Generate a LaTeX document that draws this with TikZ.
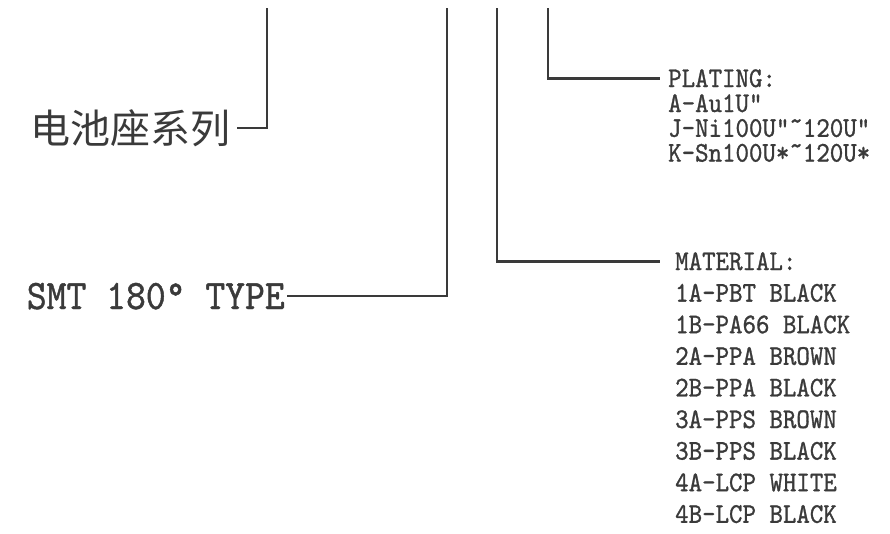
\documentclass[tikz,border=0pt]{standalone}
\usepackage{fontspec}
\newfontfamily\cjk{Noto Sans CJK SC}
\newfontfamily\lbl{lmmono10-regular.otf}[FakeStretch=0.9,FakeBold=1]
\definecolor{ink}{HTML}{3A3A3A}
\tikzset{
  lead/.style={ink, line width=2.5pt},
  code/.style={ink, inner ysep=0pt, inner xsep=0pt, anchor=base west, align=left,
    font=\lbl\fontsize{28.5}{31.6}\selectfont},
}

\begin{document}
\begin{tikzpicture}[x=1pt,y=-1pt]
\useasboundingbox (0,0) rectangle (890,533);

% free ends of the leads at the top
\coordinate (topA) at (267,8);
\coordinate (topB) at (447,8);
\coordinate (topC) at (497,8);
\coordinate (topD) at (548,8);

\node[ink, anchor=east, inner ysep=0pt, inner xsep=6pt, font=\cjk\fontsize{40}{40}\selectfont]
  (series) at (237,128) {电池座系列};
\node[ink, anchor=base east, inner ysep=0pt, inner xsep=2pt, font=\lbl\fontsize{42}{42}\selectfont]
  (smt) at (287,309) {SMT 180° TYPE};

% lists: base is the baseline of the last line
\node[code, inner xsep=8pt] (plating) at (660,87) {PLATING:};
\node[code, font=\lbl\fontsize{28.5}{24.8}\selectfont] (platlist) at (668,161.6)
  {A-Au1U"\\J-Ni100U"˜120U"\\K-Sn100U*˜120U*};

\node[code, inner xsep=15pt] (material) at (660,270) {MATERIAL:};
\node[code] (matlist) at (675,522.8)
  {1A-PBT BLACK\\1B-PA66 BLACK\\2A-PPA BROWN\\2B-PPA BLACK\\3A-PPS BROWN\\3B-PPS BLACK\\4A-LCP WHITE\\4B-LCP BLACK};

\draw[lead] (topA) |- (series.east);
\draw[lead] (topB) |- (smt.east);
\draw[lead] (topC) |- (material.west);
\draw[lead] (topD) |- (plating.west);
\end{tikzpicture}
\end{document}
